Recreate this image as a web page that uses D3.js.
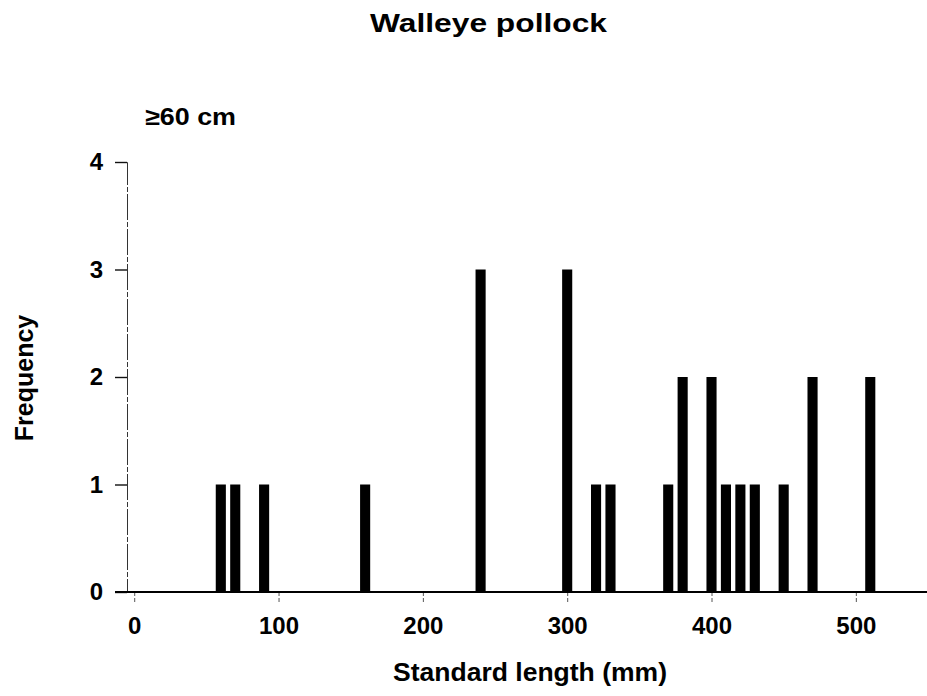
<!DOCTYPE html>
<html>
<head>
<meta charset="utf-8">
<script src="https://cdn.jsdelivr.net/npm/d3@7"></script>
<style>
  html, body { margin: 0; padding: 0; background: #fff; }
  svg { display: block; font-family: "Liberation Sans", Arial, sans-serif; }
</style>
</head>
<body>
<svg id="chart" width="927" height="696"></svg>
<script>
// Length classes (mm) and the number of fish in each
const lengths = [60, 70, 90, 160, 240, 300, 320, 330, 370, 380, 400, 410, 420, 430, 450, 470, 510];
const counts  = [1, 1, 1, 1, 3, 3, 1, 1, 1, 2, 2, 1, 1, 1, 1, 2, 2];
const xTicks = [0, 100, 200, 300, 400, 500];
const yTicks = [0, 1, 2, 3, 4];

const svg = d3.select("#chart");

const x = d3.scaleLinear().domain([-5, 550]).range([127, 928]);
const y = d3.scaleLinear().domain([0, 4]).range([592, 162]);
const halfBar = 3.5;
const labelFont = "Liberation Sans, Arial, sans-serif";

// Title and panel label (glyphs stretched slightly wider than the stock face)
svg.append("text")
  .attr("x", 370).attr("y", 32)
  .attr("font-size", 26).attr("font-weight", "bold")
  .attr("textLength", 237).attr("lengthAdjust", "spacingAndGlyphs")
  .text("Walleye pollock");

svg.append("text")
  .attr("x", 145).attr("y", 125)
  .attr("font-size", 24).attr("font-weight", "bold")
  .attr("textLength", 91).attr("lengthAdjust", "spacingAndGlyphs")
  .text("≥60 cm");

// Bars
svg.append("g").selectAll("rect")
  .data(lengths.map((l, i) => ({ l, c: counts[i] })))
  .join("rect")
  .attr("x", d => x(d.l - halfBar))
  .attr("width", d => x(d.l + halfBar) - x(d.l - halfBar))
  .attr("y", d => y(d.c))
  .attr("height", d => y(0) - y(d.c))
  .attr("fill", "#000");

// Y axis
const yAxis = svg.append("g")
  .attr("transform", `translate(${x(-5)},0)`)
  .call(d3.axisLeft(y).tickValues(yTicks).tickFormat(d3.format("d")).tickSize(12).tickPadding(12));
yAxis.select(".domain").attr("stroke", "#333").attr("stroke-width", 1).attr("stroke-dasharray", "26,2,5,2");
yAxis.selectAll(".tick line").attr("stroke", "#111").attr("stroke-width", 1.4);
yAxis.selectAll(".tick text")
  .attr("font-size", 24).attr("font-weight", "bold")
  .attr("font-family", labelFont)
  .attr("fill", "#000");

// X axis
const xAxis = svg.append("g")
  .attr("transform", `translate(0,${y(0)})`)
  .call(d3.axisBottom(x).tickValues(xTicks).tickSize(11).tickPadding(14));
xAxis.select(".domain").remove();
xAxis.selectAll(".tick line").attr("stroke", "#555").attr("stroke-width", 1).attr("stroke-dasharray", "4,2");
xAxis.selectAll(".tick text")
  .attr("font-size", 24).attr("font-weight", "bold")
  .attr("font-family", labelFont)
  .attr("fill", "#000");

// Baseline running the full width
svg.append("line")
  .attr("x1", 115).attr("x2", x(550))
  .attr("y1", y(0)).attr("y2", y(0))
  .attr("stroke", "#000").attr("stroke-width", 2);

// Axis titles
svg.append("text")
  .attr("x", 393).attr("y", 681)
  .attr("font-size", 25).attr("font-weight", "bold")
  .attr("textLength", 274).attr("lengthAdjust", "spacingAndGlyphs")
  .text("Standard length (mm)");

svg.append("text")
  .attr("transform", "translate(33,378) rotate(-90)")
  .attr("text-anchor", "middle")
  .attr("font-size", 25).attr("font-weight", "bold")
  .text("Frequency");
</script>
</body>
</html>
